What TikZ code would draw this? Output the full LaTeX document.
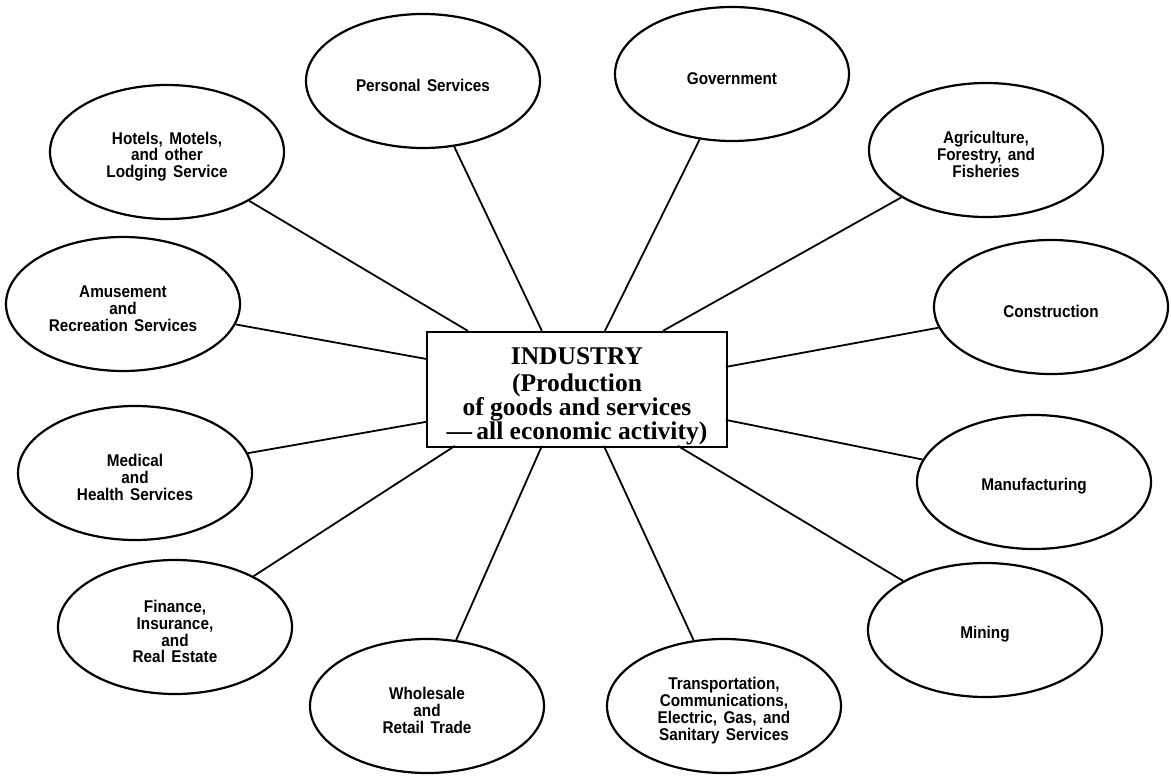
\documentclass[tikz,border=0pt]{standalone}
\usepackage{fontspec}
\newfontfamily\labelfont[FakeStretch=0.9,WordSpace=1.5]{Liberation Sans}
\newfontfamily\boxfont[Ligatures=TeX]{Liberation Serif}
\usetikzlibrary{shapes.geometric}

\begin{document}
\begin{tikzpicture}
[x=1pt,y=-1pt,
  lineDecorate/.style={-,line width=1.8pt},%
  nodeDecorate/.style={shape=ellipse,draw,line width=2.2pt,minimum width=234pt,
    minimum height=134pt,inner sep=0pt,align=center,
    font=\labelfont\bfseries\fontsize{17}{16.8}\selectfont},
  boxDecorate/.style={shape=rectangle,draw,line width=2.2pt,minimum width=300pt,
    minimum height=115pt,inner sep=0pt,align=center,
    font=\boxfont\bfseries\fontsize{25.5}{24}\selectfont}]
\useasboundingbox (0,0) rectangle (1171,776);
%% centre box
\node (ind) at (577,389.5) [boxDecorate]
  {\rule{0pt}{30pt}INDUSTRY\\[3pt](Production\\of goods and services\\—\,all economic activity)};
%% sectors round it
\foreach \nodename/\x/\y/\txt in {
  pers/423/81/{Personal Services},
  gov/732/74/{Government},
  agr/986/150/{Agriculture,\\Forestry, and\\Fisheries},
  con/1051/307/{Construction},
  man/1034/482/{Manufacturing},
  min/985/630/{Mining},
  tra/724/706/{Transportation,\\Communications,\\Electric, Gas, and\\Sanitary Services},
  who/427/706/{Wholesale\\and\\Retail Trade},
  fin/175/627/{Finance,\\Insurance,\\and\\Real Estate},
  med/135/473/{Medical\\and\\Health Services},
  amu/123/304/{Amusement\\and\\Recreation Services},
  hot/167/152/{Hotels, Motels,\\and other\\Lodging Service}}
{
  \node (\nodename) at (\x,\y) [nodeDecorate] {\rule{0pt}{21.5pt}\txt};
}
%% where the lines meet the box
\foreach \endname/\dx/\dy in {
  hot/42/0, pers/116/0, gov/179/0, agr/237/0,
  con/300/36, man/300/89,
  min/252/115, tra/178/115, who/116/115, fin/29/115,
  med/0/91, amu/0/28}
{
  \coordinate (ind-\endname) at ([xshift=\dx pt,yshift=-\dy pt]ind.north west);
}
%% lines
\path
\foreach \startnode in {hot,pers,gov,agr,con,man,min,tra,who,fin,med,amu}
{
  (\startnode) edge[lineDecorate] (ind-\startnode)
};
\end{tikzpicture}
\end{document}
